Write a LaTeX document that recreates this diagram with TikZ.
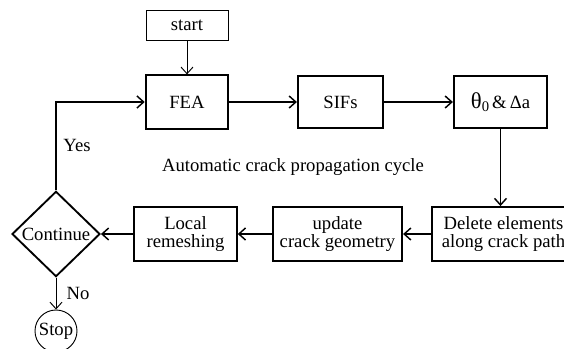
\documentclass[tikz,border=0pt]{standalone}
\usepackage{fontspec}
\setmainfont{Liberation Serif}
\usetikzlibrary{arrows.meta,shapes.geometric}
\begin{document}
\begin{tikzpicture}[x=0.75pt,y=-0.75pt,>={Straight Barb[length=5pt,width=9pt]},
    font=\fontsize{14}{13.3}\selectfont,
    stepbox/.style={draw,line width=1.4pt,align=center,inner sep=0pt},
    flow/.style={->,line width=1.1pt},
    thinflow/.style={->,line width=0.7pt}]
  \useasboundingbox (0,0) rectangle (564,349);
  % top row
  \node[draw,line width=0.7pt,minimum width=61.5pt,minimum height=22.5pt] (start) at (187,25) {start};
  \node[stepbox,minimum width=62pt,minimum height=40pt] (fea) at (187,102) {FEA};
  \node[stepbox,minimum width=64pt,minimum height=39pt] (sifs) at (340.5,102) {SIFs};
  \node[stepbox,minimum width=70pt,minimum height=39pt] (theta) at (500.5,102)
    {{\fontsize{17}{17}\selectfont θ}\raisebox{-0.35ex}{\fontsize{11}{11}\selectfont 0}\,\&\,Δa};
  % bottom row
  \node[stepbox,minimum width=107pt,minimum height=40.5pt] (delete) at (503.5,234) {Delete elements\\along crack path};
  \node[stepbox,minimum width=97pt,minimum height=40.5pt] (update) at (337.5,234) {update\\crack geometry};
  \node[stepbox,minimum width=77pt,minimum height=40.5pt] (local) at (185.5,234) {Local\\remeshing};
  \node[diamond,draw,line width=1.4pt,inner sep=0pt,minimum width=66pt,minimum height=64pt] (cont) at (56,234) {Continue};
  \node[circle,draw,line width=0.7pt,inner sep=0pt,minimum size=31.5pt] (stop) at (56,331) {Stop};
  % labels
  \node (yes) at (77,145) {Yes};
  \node (no) at (78,293) {No};
  \node (cycle) at (293,167) {Automatic crack propagation cycle};
  % connectors
  \draw[thinflow] (start) -- (fea);
  \draw[flow] (fea) -- (sifs);
  \draw[flow] (sifs) -- (theta);
  \draw[flow] (theta.south) -- (theta.south |- delete.north);
  \draw[flow] (delete) -- (update);
  \draw[flow] (update) -- (local);
  \draw[flow] (local) -- (cont);
  \draw[flow] (cont.north) |- (fea.west);
  \draw[thinflow] (cont) -- (stop);
\end{tikzpicture}
\end{document}
